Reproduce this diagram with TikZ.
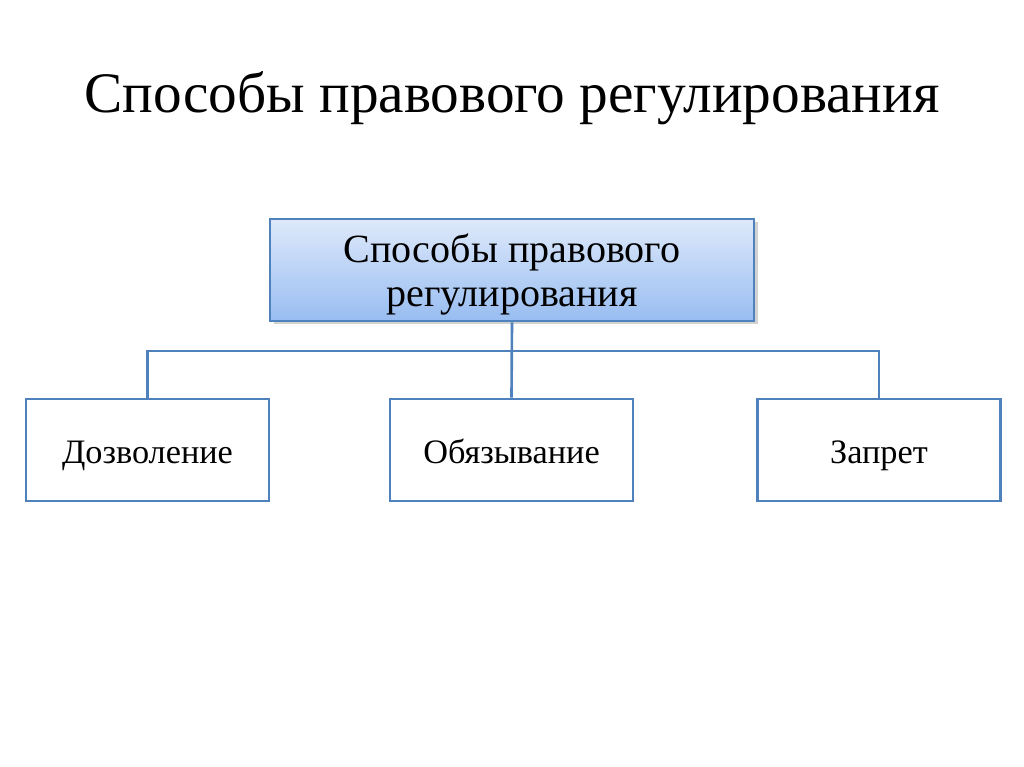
\documentclass[tikz,border=0pt]{standalone}
\usepackage{fontspec}
\setmainfont{Liberation Serif}
\newcommand\unit{0.02}
\newcommand\boxw{4.86}
\newcommand\boxh{2.04}
\usetikzlibrary{positioning,shadows}
\definecolor{lineblue}{RGB}{79,129,189}
\definecolor{topfill}{RGB}{222,233,250}
\definecolor{botfill}{RGB}{152,189,241}
\tikzset{box/.style={rectangle,draw=lineblue,line width=1.5pt,fill=white,minimum width=\boxw cm,minimum height=\boxh cm,
    font=\fontsize{19.5}{23}\selectfont,text height=15pt,text depth=0pt},
  headbox/.style={box,minimum width=9.68cm,top color=topfill,bottom color=botfill,align=center,
    font=\fontsize{22.8}{25}\selectfont,text height=,text depth=0pt,drop shadow={shadow xshift=2pt,shadow yshift=-2pt,opacity=0.35}},
  link/.style={draw=lineblue,line width=1.5pt}}

\begin{document}
\begin{tikzpicture}
                \useasboundingbox[fill=white] (0,0) rectangle (20.48,15.34);
                \node[font=\fontsize{32.6}{38}\selectfont,anchor=base] (title) at (10.24,13.08) {Способы правового регулирования};

                \node[headbox] (head) at (10.24,9.94) {Способы правового\\регулирования};
                \coordinate (bus) at (10.24,8.32);

                \node[box] (permit) at (2.95,6.34) {Дозволение};
                \node[box] (oblige) at (10.23,6.34) {Обязывание};
                \node[box] (forbid) at (17.58,6.34) {Запрет};

                \draw[link] (head.south) -- (oblige.north);
                \draw[link] (permit.north) |- (bus) -| (forbid.north);
            \end{tikzpicture}
\end{document}
